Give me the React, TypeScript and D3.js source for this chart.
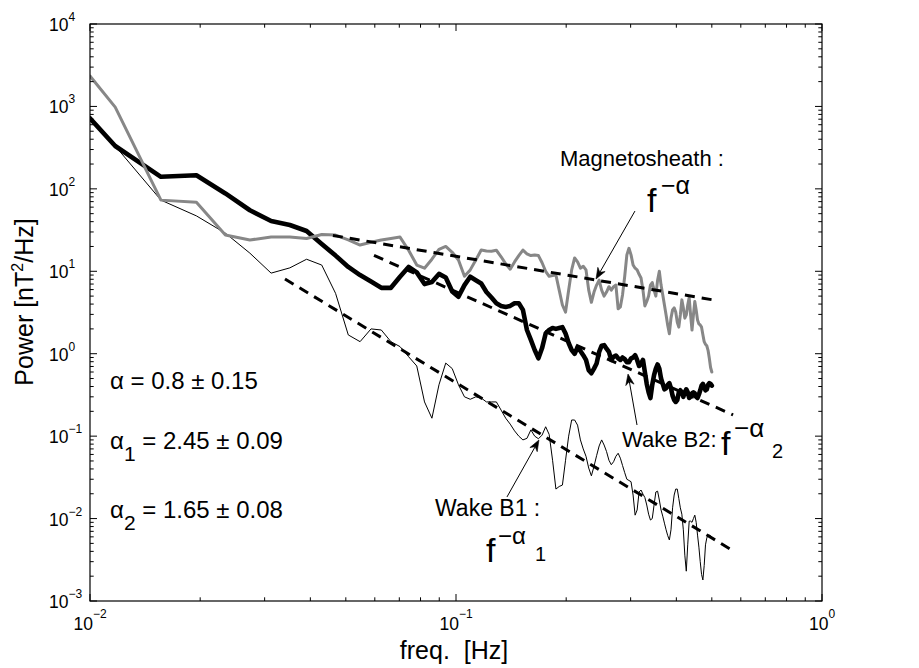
import React from 'react';
import * as d3 from 'd3';

// ---------------- data ----------------
// spectra are sampled on bins k/256 Hz (k = 3..128), plus the value at the left axis edge (0.01 Hz)
const frequencyStart = 0.01;
const binWidthHz = 1 / 256;
const firstBin = 3;
const lastBin = 128;

const magnetosheathStart = 2340;
const magnetosheath = [
  980, 73, 69, 27.5, 24, 26, 26, 25, 28, 27.5,
  24, 20.8, 22.5, 24, 25, 26, 18, 11.9, 10.9, 14,
  18.5, 20, 17, 13.7, 8.7, 10.4, 13.7, 18.1, 17.6, 17.5,
  18, 15, 12.3, 10.6, 13, 15.5, 18.1, 16.3, 15.5, 15.8,
  15.5, 12.7, 10, 8.7, 8.9, 9, 5.9, 3.9, 3.2, 5.9,
  10.4, 14.5, 13, 10.9, 11.5, 10.4, 5.9, 4.2, 5.6, 6.8,
  7.8, 5.9, 5, 5.6, 6.5, 5.9, 6.5, 6.8, 3.5, 3.7,
  5.2, 8.7, 15.8, 19, 15.8, 11.9, 10.9, 10.4, 9.2, 8.3,
  5.9, 3.8, 4.3, 5, 6.8, 7.3, 5.9, 5, 7.8, 10,
  6.8, 5.2, 3.9, 2.95, 2.2, 1.75, 2.7, 3.4, 3.6, 3.2,
  2.4, 2.1, 2.95, 4.5, 3.6, 2.7, 2.95, 3.9, 4.8, 2.95,
  1.94, 2.95, 4.3, 3.4, 2.56, 2.3, 2.23, 2.1, 1.7, 1.4,
  1.3, 1.25, 1.1, 0.88, 0.68, 0.6,
];

const wakeB2Start = 718;
const wakeB2 = [
  331, 140, 146, 88, 55, 40.7, 36.4, 30.8, 21.4, 15.5,
  11.3, 9, 7.5, 6.3, 6.3, 8.6, 11.3, 9.7, 7, 7.4,
  9.3, 8.4, 5.7, 4.9, 6.8, 8.6, 7.8, 7.1, 5.6, 4.8,
  4.1, 3.8, 3.7, 3.8, 4.1, 4.1, 3.4, 1.94, 1.47, 1.11,
  0.88, 1.17, 1.76, 1.94, 2.05, 2.0, 2.05, 2.1, 1.76, 1.35,
  1.11, 1.0, 1.2, 1.08, 0.96, 0.84, 0.63, 0.58, 0.66, 0.76,
  1.05, 1.25, 1.27, 1.15, 1.05, 0.84, 0.92, 0.95, 0.88, 0.84,
  0.9, 0.86, 0.79, 0.79, 0.88, 0.9, 0.96, 0.84, 0.71, 0.76,
  0.84, 0.6, 0.43, 0.34, 0.29, 0.42, 0.55, 0.66, 0.74, 0.66,
  0.5, 0.43, 0.37, 0.38, 0.42, 0.44, 0.38, 0.31, 0.274, 0.26,
  0.274, 0.34, 0.36, 0.34, 0.3, 0.34, 0.37, 0.34, 0.29, 0.3,
  0.33, 0.34, 0.33, 0.3, 0.29, 0.32, 0.36, 0.41, 0.43, 0.39,
  0.36, 0.37, 0.42, 0.44, 0.43, 0.41,
];

const wakeB1Start = 718;
const wakeB1 = [
  331, 73, 47, 29, 16.6, 9.5, 11, 14, 11.9, 5.4,
  1.69, 1.4, 2.0, 1.94, 1.4, 1.22, 0.92, 0.71, 0.26, 0.165,
  0.42, 0.77, 0.66, 0.42, 0.3, 0.28, 0.3, 0.29, 0.26, 0.26,
  0.26, 0.207, 0.165, 0.14, 0.116, 0.1, 0.09, 0.094, 0.119, 0.1,
  0.093, 0.103, 0.13, 0.105, 0.051, 0.0228, 0.0245, 0.0255, 0.051, 0.1,
  0.157, 0.157, 0.136, 0.09, 0.07, 0.057, 0.041, 0.033, 0.043, 0.058,
  0.076, 0.09, 0.078, 0.065, 0.051, 0.045, 0.049, 0.057, 0.062, 0.054,
  0.044, 0.036, 0.03, 0.029, 0.028, 0.0193, 0.011, 0.0127, 0.021, 0.0222,
  0.0198, 0.018, 0.0146, 0.0113, 0.0096, 0.01, 0.0146, 0.021, 0.0215, 0.0168,
  0.0127, 0.0107, 0.0088, 0.0073, 0.0062, 0.0055, 0.0073, 0.0135, 0.0193, 0.0228,
  0.0228, 0.0175, 0.0135, 0.0113, 0.0073, 0.0036, 0.0023, 0.0048, 0.0093, 0.0093,
  0.009, 0.01, 0.011, 0.009, 0.0063, 0.0045, 0.003, 0.0021, 0.0018, 0.0027,
  0.0048, 0.0058, 0.0063, 0.0063, 0.0062, 0.006,
];

// power-law fits drawn as dashed lines: [freq, power] end points
const fitMagnetosheath: [number, number][] = [[0.0461, 27.2], [0.504, 4.5]];
const fitWakeB2: [number, number][] = [[0.0597, 15.6], [0.5715, 0.181]];
const fitWakeB1: [number, number][] = [[0.0341, 8.06], [0.578, 0.00394]];

// annotation arrows: tail -> head, [freq, power]
const arrowMagnetosheath: [number, number][] = [[0.3083, 53.8], [0.2413, 8.06]];
const arrowWakeB2: [number, number][] = [[0.3123, 0.1365], [0.2951, 0.567]];
const arrowWakeB1: [number, number][] = [[0.1378, 0.01828], [0.1685, 0.0897]];

const xTickExponents = [-2, -1, 0];
const yTickExponents = [-3, -2, -1, 0, 1, 2, 3, 4];

const alphaText = ['0.8 ± 0.15', '2.45 ± 0.09', '1.65 ± 0.08'];

// ---------------- chart ----------------
const FONT = "'Liberation Sans', Arial, Helvetica, sans-serif";

function supLabel(e: number) {
  return e < 0 ? '\u2212' + String(-e) : String(e);
}

function Arrow({ x1, y1, x2, y2 }: { x1: number; y1: number; x2: number; y2: number }) {
  const a = Math.atan2(y2 - y1, x2 - x1);
  const c = Math.cos(a), s = Math.sin(a);
  const len = 11, hw = 4.2;
  const bx = x2 - len * c, by = y2 - len * s;
  const nx = x2 - len * 0.7 * c, ny = y2 - len * 0.7 * s;
  const p = [
    [x2, y2],
    [bx - hw * s, by + hw * c],
    [nx, ny],
    [bx + hw * s, by - hw * c],
  ];
  return (
    <g>
      <line x1={x1} y1={y1} x2={nx} y2={ny} stroke="#000" strokeWidth={1} />
      <polygon points={p.map((q) => q.join(',')).join(' ')} fill="#000" stroke="#000" strokeWidth={0.6} />
    </g>
  );
}

export default function App() {
  const W = 919, H = 668;
  const L = 90, R = 822, T = 24, B = 601;
  const x = d3.scaleLog().domain([0.01, 1]).range([L, R]);
  const y = d3.scaleLog().domain([1e-3, 1e4]).range([B, T]);
  const line = d3.line<[number, number]>().x((d) => x(d[0])).y((d) => y(d[1]));

  const freqs = [frequencyStart, ...d3.range(firstBin, lastBin + 1).map((k) => k * binWidthHz)];
  const pts = (start: number, arr: number[]): [number, number][] =>
    freqs.map((f, i) => [f, i === 0 ? start : arr[i - 1]] as [number, number]).filter((d) => d[1] !== undefined);

  const xMinor: number[] = [];
  for (let e = -2; e < 0; e++) for (let m = 2; m <= 9; m++) xMinor.push(m * Math.pow(10, e));
  const yMinor: number[] = [];
  for (let e = -3; e < 4; e++) for (let m = 2; m <= 9; m++) yMinor.push(m * Math.pow(10, e));

  const major = 7, minor = 3.7;
  const tickStroke = { stroke: '#000', strokeWidth: 1 };

  const arrows = [arrowMagnetosheath, arrowWakeB2, arrowWakeB1];
  const fits = [fitMagnetosheath, fitWakeB2, fitWakeB1];

  return (
    <svg
      width={W}
      height={H}
      viewBox={`0 0 ${W} ${H}`}
      style={{ position: 'absolute', left: 0, top: 0, background: '#fff' }}
      fontFamily={FONT}
    >
      <rect x={0} y={0} width={W} height={H} fill="#fff" />
      <defs>
        <clipPath id="plotArea">
          <rect x={L} y={T} width={R - L} height={B - T} />
        </clipPath>
      </defs>

      <g clipPath="url(#plotArea)" fill="none" strokeLinejoin="round" strokeLinecap="round">
        <path d={line(pts(wakeB1Start, wakeB1)) || ''} stroke="#000" strokeWidth={1} />
        <path d={line(pts(wakeB2Start, wakeB2)) || ''} stroke="#000" strokeWidth={4.6} />
        <path d={line(pts(magnetosheathStart, magnetosheath)) || ''} stroke="#878787" strokeWidth={3} />
        {fits.map((f, i) => (
          <path key={i} d={line(f) || ''} stroke="#000" strokeWidth={3} strokeDasharray="10 7" strokeLinecap="butt" />
        ))}
      </g>

      {/* frame */}
      <rect x={L} y={T} width={R - L} height={B - T} fill="none" stroke="#000" strokeWidth={1.2} />

      {/* x ticks */}
      {xTickExponents.map((e) => {
        const px = x(Math.pow(10, e));
        return (
          <g key={'xM' + e}>
            <line x1={px} x2={px} y1={B} y2={B - major} {...tickStroke} />
            <line x1={px} x2={px} y1={T} y2={T + major} {...tickStroke} />
          </g>
        );
      })}
      {xMinor.map((v, i) => {
        const px = x(v);
        return (
          <g key={'xm' + i}>
            <line x1={px} x2={px} y1={B} y2={B - minor} {...tickStroke} />
            <line x1={px} x2={px} y1={T} y2={T + minor} {...tickStroke} />
          </g>
        );
      })}
      {/* y ticks */}
      {yTickExponents.map((e) => {
        const py = y(Math.pow(10, e));
        return (
          <g key={'yM' + e}>
            <line x1={L} x2={L + major} y1={py} y2={py} {...tickStroke} />
            <line x1={R} x2={R - major} y1={py} y2={py} {...tickStroke} />
          </g>
        );
      })}
      {yMinor.map((v, i) => {
        const py = y(v);
        return (
          <g key={'ym' + i}>
            <line x1={L} x2={L + minor} y1={py} y2={py} {...tickStroke} />
            <line x1={R} x2={R - minor} y1={py} y2={py} {...tickStroke} />
          </g>
        );
      })}

      {/* tick labels */}
      {xTickExponents.map((e) => (
        <text key={'xl' + e} x={x(Math.pow(10, e))} y={630} textAnchor="middle" fontSize={17.5} fill="#000">
          10
          <tspan dy={-12} fontSize={12}>{supLabel(e)}</tspan>
        </text>
      ))}
      {yTickExponents.map((e) => (
        <text key={'yl' + e} x={49} y={y(Math.pow(10, e)) + 7} fontSize={17.5} fill="#000">
          10
          <tspan dy={-10} fontSize={12}>{supLabel(e)}</tspan>
        </text>
      ))}

      {/* axis titles */}
      <text transform="translate(33,302) rotate(-90)" textAnchor="middle" fontSize={25} fill="#000">
        Power [nT
        <tspan dy={-10} fontSize={16}>2</tspan>
        <tspan dy={10}>/Hz]</tspan>
      </text>
      <text x={454} y={659} textAnchor="middle" fontSize={25} fill="#000" style={{ whiteSpace: 'pre' }}>
        {'freq.  [Hz]'}
      </text>

      {/* exponent annotations */}
      <text x={110} y={389} fontSize={24} fill="#000" style={{ whiteSpace: 'pre' }}>
        {'\u03b1 = ' + alphaText[0]}
      </text>
      <text x={110} y={449} fontSize={24} fill="#000" style={{ whiteSpace: 'pre' }}>
        {'\u03b1'}
        <tspan dy={12} fontSize={21}>1</tspan>
        <tspan dy={-12}>{' = ' + alphaText[1]}</tspan>
      </text>
      <text x={110} y={518} fontSize={24} fill="#000" style={{ whiteSpace: 'pre' }}>
        {'\u03b1'}
        <tspan dy={12} fontSize={21}>2</tspan>
        <tspan dy={-12}>{' = ' + alphaText[2]}</tspan>
      </text>

      {/* series labels */}
      <text x={560} y={166} fontSize={22} fill="#000" style={{ whiteSpace: 'pre' }}>Magnetosheath :</text>
      <text x={647} y={212} fontSize={34} fill="#000">f</text>
      <text x={661} y={194} fontSize={25} fill="#000">{'\u2212\u03b1'}</text>

      <text x={622} y={447} fontSize={22} fill="#000">Wake B2:</text>
      <text x={721} y={455} fontSize={34} fill="#000">f</text>
      <text x={734} y={437} fontSize={26} fill="#000">{'\u2212\u03b1'}</text>
      <text x={772} y={458} fontSize={20} fill="#000">2</text>

      <text x={435} y={516} fontSize={23} fill="#000" style={{ whiteSpace: 'pre' }}>Wake B1 :</text>
      <text x={486} y={562} fontSize={34} fill="#000">f</text>
      <text x={498} y={544} fontSize={24} fill="#000">{'\u2212\u03b1'}</text>
      <text x={535} y={561} fontSize={20} fill="#000">1</text>

      {arrows.map((a, i) => (
        <Arrow key={i} x1={x(a[0][0])} y1={y(a[0][1])} x2={x(a[1][0])} y2={y(a[1][1])} />
      ))}
    </svg>
  );
}
